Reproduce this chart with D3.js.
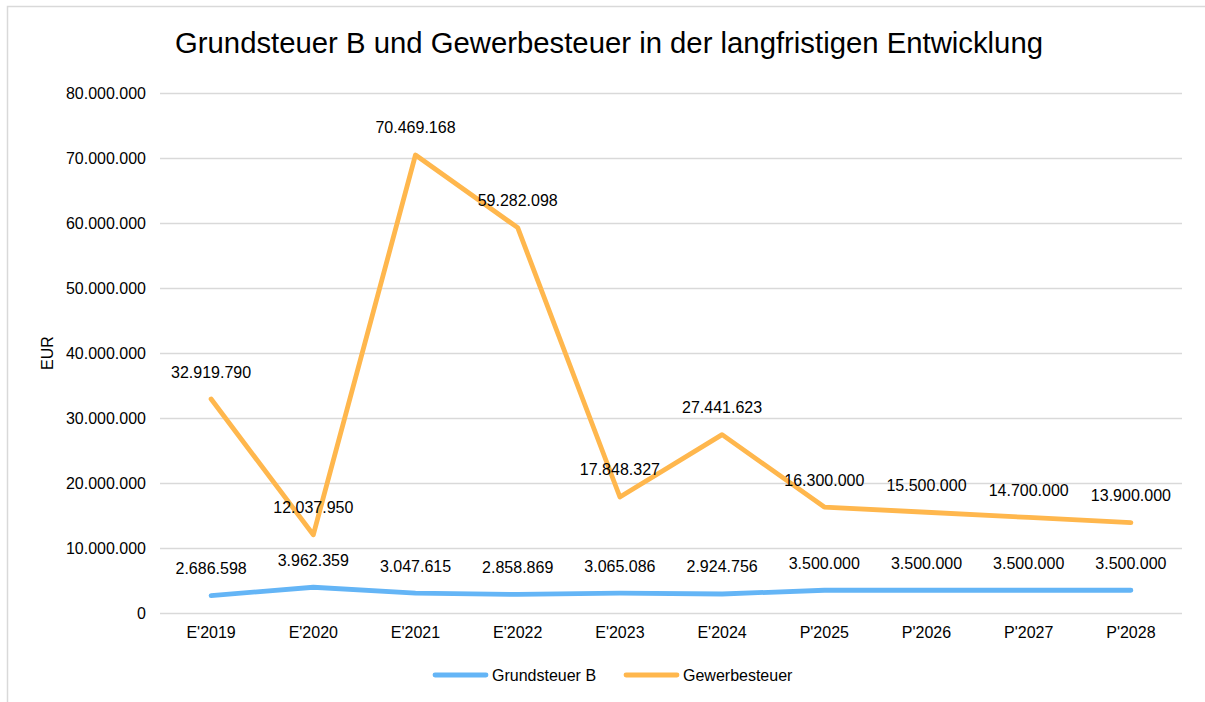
<!DOCTYPE html>
<html>
<head>
<meta charset="utf-8">
<script src="https://cdn.jsdelivr.net/npm/d3@7"></script>
<style>
  body { margin: 0; background: #fff; }
  svg { display: block; font-family: "Liberation Sans", Arial, sans-serif; }
</style>
</head>
<body>
<div id="chart"></div>
<script>
const categories = ["E'2019", "E'2020", "E'2021", "E'2022", "E'2023", "E'2024", "P'2025", "P'2026", "P'2027", "P'2028"];
const grundsteuerB = [2686598, 3962359, 3047615, 2858869, 3065086, 2924756, 3500000, 3500000, 3500000, 3500000];
const gewerbesteuer = [32919790, 12037950, 70469168, 59282098, 17848327, 27441623, 16300000, 15500000, 14700000, 13900000];
const yTicks = [0, 10000000, 20000000, 30000000, 40000000, 50000000, 60000000, 70000000, 80000000];

const series = [
  { name: "Grundsteuer B", values: grundsteuerB, color: "#64b5f6" },
  { name: "Gewerbesteuer", values: gewerbesteuer, color: "#ffb74d" },
];

const width = 1205,
  height = 702;
const plot = { left: 160, right: 1182, top: 93, bottom: 613 };

const svg = d3
  .select("#chart")
  .append("svg")
  .attr("width", width)
  .attr("height", height);

// chart frame (only left and top visible in the picture)
svg
  .append("rect")
  .attr("x", 7.5)
  .attr("y", 6.5)
  .attr("width", 1220)
  .attr("height", 720)
  .attr("fill", "none")
  .attr("stroke", "#d9d9d9")
  .attr("stroke-width", 1.5);

// title
svg
  .append("text")
  .attr("x", 609)
  .attr("y", 53)
  .attr("text-anchor", "middle")
  .style("font-size", "29.3px")
  .attr("fill", "#000")
  .text("Grundsteuer B und Gewerbesteuer in der langfristigen Entwicklung");

const x = d3
  .scaleBand()
  .domain(categories)
  .range([plot.left, plot.right]);

const y = d3
  .scaleLinear()
  .domain([0, 80000000])
  .range([plot.bottom, plot.top]);

const fmt = (v) => d3.format(",")(v).replace(/,/g, ".");

// y axis with gridlines
const yAxis = svg
  .append("g")
  .attr("transform", `translate(${plot.left},0)`)
  .call(
    d3
      .axisLeft(y)
      .tickValues(yTicks)
      .tickSize(-(plot.right - plot.left))
      .tickPadding(14)
      .tickFormat(fmt)
  );
yAxis.select(".domain").remove();
yAxis.selectAll("line").attr("stroke", "#d9d9d9").attr("stroke-width", 1.3);
yAxis
  .selectAll("text")
  .style("font-size", "16px")
  .style("font-family", "Liberation Sans, Arial, sans-serif")
  .attr("fill", "#000");

// x axis
const xAxis = svg
  .append("g")
  .attr("transform", `translate(0,${plot.bottom})`)
  .call(d3.axisBottom(x).tickSize(0).tickPadding(14));
xAxis.select(".domain").remove();
xAxis
  .selectAll("text")
  .style("font-size", "16px")
  .style("font-family", "Liberation Sans, Arial, sans-serif")
  .attr("fill", "#000");

// y axis title
svg
  .append("text")
  .attr("transform", "translate(53,353) rotate(-90)")
  .attr("text-anchor", "middle")
  .style("font-size", "16px")
  .attr("fill", "#000")
  .text("EUR");

const line = d3
  .line()
  .x((d, i) => x(categories[i]) + x.bandwidth() / 2)
  .y((d) => y(d));

series.forEach((s) => {
  svg
    .append("path")
    .datum(s.values)
    .attr("d", line)
    .attr("fill", "none")
    .attr("stroke", s.color)
    .attr("stroke-width", 4.8)
    .attr("stroke-linecap", "round")
    .attr("stroke-linejoin", "round");
});

series.forEach((s) => {
  svg
    .append("g")
    .selectAll("text")
    .data(s.values)
    .enter()
    .append("text")
    .attr("x", (d, i) => x(categories[i]) + x.bandwidth() / 2)
    .attr("y", (d) => y(d) - 21.5)
    .attr("text-anchor", "middle")
    .style("font-size", "16px")
    .attr("fill", "#000")
    .text((d) => fmt(d));
});

// legend
const legendItems = [
  { x: 433, color: series[0].color, name: series[0].name },
  { x: 624, color: series[1].color, name: series[1].name },
];
legendItems.forEach((item) => {
  svg
    .append("line")
    .attr("x1", item.x + 2)
    .attr("x2", item.x + 53)
    .attr("y1", 675)
    .attr("y2", 675)
    .attr("stroke", item.color)
    .attr("stroke-width", 4.8)
    .attr("stroke-linecap", "round");
  svg
    .append("text")
    .attr("x", item.x + 59)
    .attr("y", 681)
    .style("font-size", "16px")
    .attr("fill", "#000")
    .text(item.name);
});
</script>
</body>
</html>
